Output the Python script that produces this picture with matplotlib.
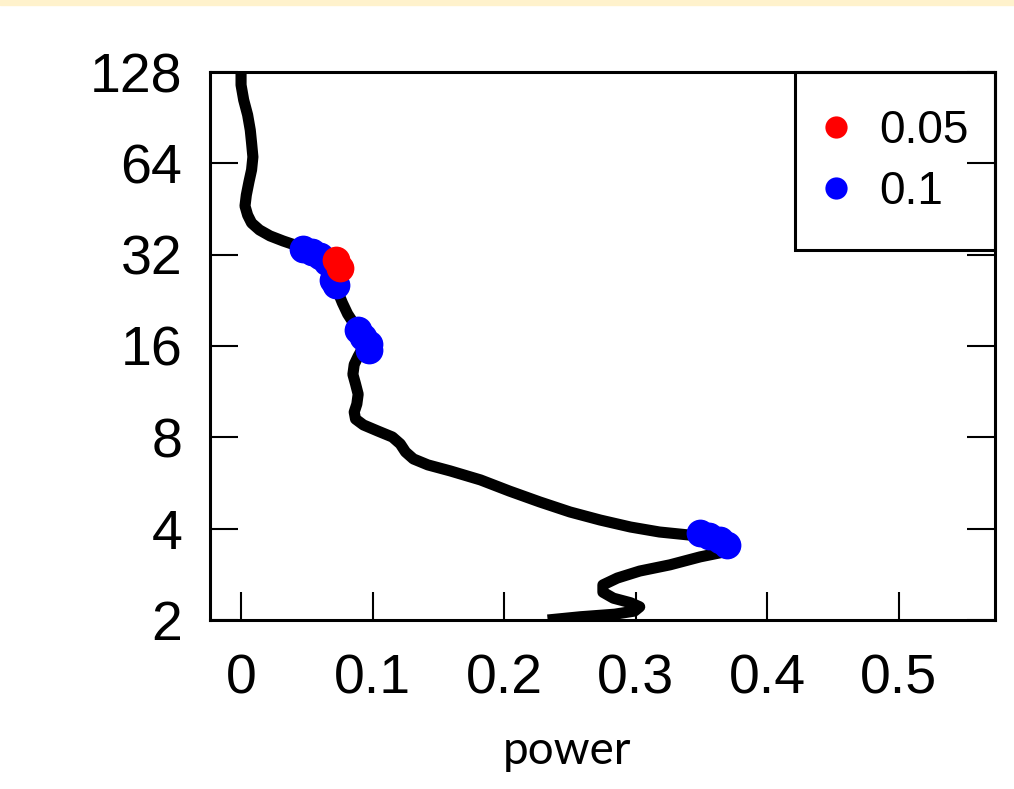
import matplotlib.pyplot as plt
from matplotlib.patches import Rectangle

# global power spectrum (power vs period, log2 axis)
power = [0.000, 0.000, 0.002, 0.005, 0.007, 0.008, 0.009, 0.008, 0.006, 0.004,
         0.003, 0.005, 0.008, 0.014, 0.022, 0.032, 0.043, 0.052, 0.062, 0.068,
         0.071, 0.071, 0.074, 0.077, 0.081, 0.087, 0.093, 0.093, 0.089, 0.086,
         0.085, 0.087, 0.089, 0.088, 0.086, 0.087, 0.093, 0.104, 0.115, 0.121,
         0.125, 0.131, 0.142, 0.159, 0.182, 0.204, 0.227, 0.250, 0.273, 0.296,
         0.318, 0.341, 0.356, 0.368, 0.372, 0.364, 0.349, 0.326, 0.303, 0.286,
         0.275, 0.275, 0.283, 0.296, 0.303, 0.299, 0.284, 0.258, 0.233]
period = [128, 116.0, 103.5, 92.4, 82.4, 74.7, 67.2, 60.9, 55.6, 50.3,
          46.3, 43.2, 40.7, 38.6, 36.9, 35.5, 34.2, 32.9, 31.4, 29.6,
          27.6, 25.8, 23.9, 22.2, 20.4, 18.6, 17.0, 15.9, 14.8, 13.9,
          12.9, 12.0, 11.1, 10.3, 9.69, 9.19, 8.79, 8.39, 8.02, 7.61,
          7.16, 6.79, 6.49, 6.20, 5.79, 5.32, 4.90, 4.54, 4.27, 4.05,
          3.90, 3.81, 3.73, 3.59, 3.43, 3.33, 3.23, 3.04, 2.90, 2.75,
          2.61, 2.47, 2.36, 2.28, 2.21, 2.14, 2.09, 2.05, 2.0]

# significant points
sig10_power = [0.047, 0.054, 0.060, 0.065, 0.070, 0.072,
               0.089, 0.093, 0.097, 0.097,
               0.349, 0.356, 0.364, 0.369]
sig10_period = [33.4, 32.6, 31.7, 30.3, 26.4, 25.4,
                18.1, 17.1, 16.2, 15.5,
                3.87, 3.78, 3.67, 3.53]
sig05_power = [0.072, 0.075]
sig05_period = [30.7, 28.9]

yticks = [2, 4, 8, 16, 32, 64, 128]
xticks = [0, 0.1, 0.2, 0.3, 0.4, 0.5]

plt.rcParams['font.family'] = ['Liberation Sans', 'DejaVu Sans']

fig = plt.figure(figsize=(10.14, 7.89), dpi=100)
fig.patches.append(Rectangle((0, 1 - 5 / 789), 1, 5 / 789, transform=fig.transFigure,
                             color='#fff2cc', zorder=0))

ax = fig.add_axes([210 / 1014, 169 / 789, 785 / 1014, 548 / 789])
ax.plot(power, period, color='black', lw=8, solid_joinstyle='round',
        solid_capstyle='butt', zorder=2)
ax.plot(sig10_power, sig10_period, 'o', color='#0000ff', ms=20, mec='none', zorder=3)
ax.plot(sig05_power, sig05_period, 'o', color='#ff0000', ms=20, mec='none', zorder=4)

ax.set_yscale('log', base=2)
ax.set_ylim(2, 128)
ax.set_xlim(-0.0236, 0.573)
ax.set_yticks(yticks)
ax.set_yticklabels([str(t) for t in yticks])
ax.set_xticks(xticks)
ax.set_xticklabels(['0', '0.1', '0.2', '0.3', '0.4', '0.5'])
ax.minorticks_off()
ax.tick_params(axis='both', direction='in', length=20, width=1.5, labelsize=40)
ax.tick_params(axis='x', pad=24)
ax.tick_params(axis='y', right=True, pad=20)
for s in ax.spines.values():
    s.set_linewidth(2.2)

# legend box
ax.add_patch(Rectangle((0.745, 0.675), 0.255, 0.325, transform=ax.transAxes,
                       facecolor='white', edgecolor='black', lw=2.2,
                       clip_on=False, zorder=1.4))
h1, = ax.plot([], [], 'o', color='#ff0000', ms=16, mec='none')
h2, = ax.plot([], [], 'o', color='#0000ff', ms=16, mec='none')
ax.legend([h1, h2], ['0.05', '0.1'], loc='upper left', bbox_to_anchor=(0.745, 0.974),
          fontsize=33, frameon=False, borderaxespad=0, borderpad=0.5,
          handlelength=0.8, handletextpad=0.54, labelspacing=0.36)

fig.text(567 / 1014, 1 - 764 / 789, 'power', ha='center', va='baseline',
         fontsize=33, family=['Lato', 'DejaVu Sans'])

fig.savefig('out.png', dpi=100)
